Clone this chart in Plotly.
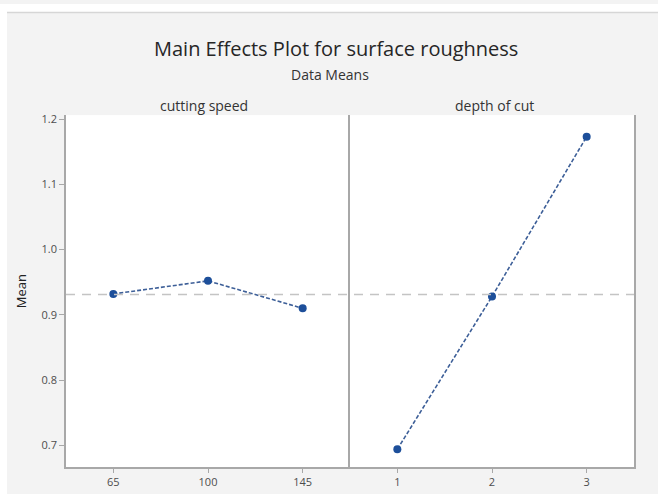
import plotly.graph_objects as go

W, H = 658, 494

speed_levels = ["65", "100", "145"]
speed_means = [0.932, 0.952, 0.910]
depth_levels = ["1", "2", "3"]
depth_means = [0.694, 0.928, 1.173]
grand_mean = 0.931
y_ticks = [0.7, 0.8, 0.9, 1.0, 1.1, 1.2]
y_tick_text = ["0.7", "0.8", "0.9", "1.0", "1.1", "1.2"]

title = "Main Effects Plot for surface roughness"
subtitle = "Data Means"
panel_titles = ["cutting speed", "depth of cut"]

def px_x(v):
    return v / W

def px_y(v):
    return 1 - v / H

left0, sep, right1 = 66, 350, 634
top, bottom = 112, 467

line_col = "#1d4f9a"
frame_col = "#a8a8a8"
tick_font = dict(family="Open Sans, DejaVu Sans", size=11, color="#4d4d4d")

fig = go.Figure()
fig.add_trace(go.Scatter(
    x=speed_levels, y=speed_means, xaxis="x", yaxis="y",
    mode="lines+markers",
    line=dict(color="#3d5f98", width=1.6, dash="4px,2px"),
    marker=dict(color=line_col, size=8),
    showlegend=False, hoverinfo="x+y"))
fig.add_trace(go.Scatter(
    x=depth_levels, y=depth_means, xaxis="x2", yaxis="y2",
    mode="lines+markers",
    line=dict(color="#3d5f98", width=1.6, dash="4px,2px"),
    marker=dict(color=line_col, size=8),
    showlegend=False, hoverinfo="x+y"))

yrange = [0.6665, 1.206]

common_x = dict(type="category", range=[-0.5, 2.5], showgrid=False, zeroline=False,
                showline=True, linecolor=frame_col, linewidth=1.5,
                ticks="outside", ticklen=4, tickcolor=frame_col, tickfont=tick_font)

fig.update_layout(
    width=W, height=H,
    margin=dict(l=0, r=0, t=0, b=0),
    paper_bgcolor="#f3f3f3",
    plot_bgcolor="#ffffff",
    xaxis=dict(domain=[px_x(left0), px_x(sep)], anchor="y",
               categoryorder="array", categoryarray=speed_levels, **common_x),
    xaxis2=dict(domain=[px_x(sep), px_x(right1)], anchor="y2",
                categoryorder="array", categoryarray=depth_levels, **common_x),
    yaxis=dict(domain=[px_y(bottom), px_y(top)], anchor="x", range=yrange,
               tickvals=y_ticks, ticktext=y_tick_text,
               showgrid=False, zeroline=False, showline=True,
               linecolor=frame_col, linewidth=1.5,
               ticks="outside", ticklen=5, tickcolor=frame_col, tickfont=tick_font,
               title=dict(text="Mean", font=dict(family="Open Sans, DejaVu Sans", size=13, color="#222222"),
                          standoff=12)),
    yaxis2=dict(domain=[px_y(bottom), px_y(top)], anchor="x2", matches="y", range=yrange,
                showticklabels=False, ticks="", showgrid=False, zeroline=False,
                showline=True, mirror=True, linecolor=frame_col, linewidth=1.5),
    showlegend=False,
)

shapes = [
    # white borders around the grey panel
    dict(type="rect", xref="paper", yref="paper", x0=0, x1=1, y0=px_y(8), y1=1,
         fillcolor="#ffffff", line=dict(width=0), layer="below"),
    dict(type="rect", xref="paper", yref="paper", x0=0, x1=px_x(7), y0=0, y1=1,
         fillcolor="#ffffff", line=dict(width=0), layer="below"),
    dict(type="line", xref="paper", yref="paper", x0=px_x(7), x1=1, y0=px_y(8.5), y1=px_y(8.5),
         line=dict(color="#d6d6d6", width=1.5)),
    # grand mean reference line
    dict(type="line", xref="paper", yref="y", x0=px_x(left0), x1=px_x(right1),
         y0=grand_mean, y1=grand_mean,
         line=dict(color="#c4c4c4", width=1.5, dash="9px,7px")),
]
fig.update_layout(shapes=shapes)

ann_font = "Open Sans, DejaVu Sans"
annotations = [
    dict(text=title, xref="paper", yref="paper", x=px_x(336), y=px_y(45),
         showarrow=False, xanchor="center", yanchor="middle",
         font=dict(family=ann_font, size=20, color="#262626")),
    dict(text=subtitle, xref="paper", yref="paper", x=px_x(330), y=px_y(71),
         showarrow=False, xanchor="center", yanchor="middle",
         font=dict(family=ann_font, size=14, color="#333333")),
    dict(text=panel_titles[0], xref="paper", yref="paper", x=px_x(204), y=px_y(102),
         showarrow=False, xanchor="center", yanchor="middle",
         font=dict(family=ann_font, size=14, color="#333333")),
    dict(text=panel_titles[1], xref="paper", yref="paper", x=px_x(494), y=px_y(102),
         showarrow=False, xanchor="center", yanchor="middle",
         font=dict(family=ann_font, size=14, color="#333333")),
]
fig.update_layout(annotations=annotations)

fig.write_html(
    "out.html",
    config={"displayModeBar": False},
    post_script="document.documentElement.style.margin='0';document.body.style.margin='0';"
                "document.body.style.padding='0';document.body.style.overflow='hidden';",
)
